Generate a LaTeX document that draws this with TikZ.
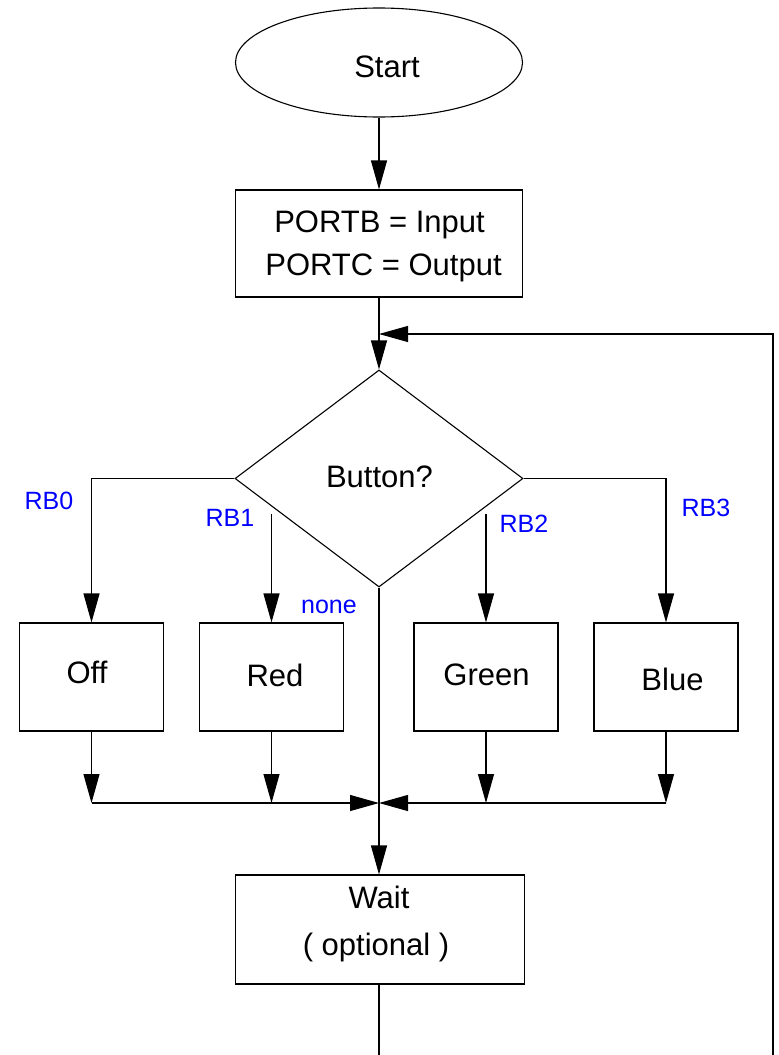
\documentclass[tikz,border=0pt]{standalone}
\usepackage{fontspec}
\setmainfont{Liberation Sans}
\usetikzlibrary{shapes.geometric,arrows.meta}
\begin{document}
\begin{tikzpicture}[x=1pt,y=-1pt,
  every node/.style={inner sep=0pt},
  txt/.style={anchor=base, font=\fontsize{31}{37}\selectfont},
  lbl/.style={anchor=base, text=blue, font=\fontsize{25}{30}\selectfont},
  box/.style={draw, line width=1.1pt, rectangle},
  arr/.style={line width=1.1pt, -{Triangle[length=29pt,width=16pt]}},
  ln/.style={line width=1.1pt}]
\useasboundingbox (0,0) rectangle (779,1055);
% shapes
\node[draw, ellipse, line width=1.1pt, minimum width=287pt, minimum height=109pt] (start) at (379,62.5) {};
\node[box, minimum width=287pt, minimum height=107pt] (init) at (379,243.5) {};
\node[draw, diamond, line width=1.1pt, minimum width=288pt, minimum height=217pt] (dec) at (379,478.5) {};
\node[box, minimum width=144pt, minimum height=108pt] (off) at (91.5,677) {};
\node[box, minimum width=144pt, minimum height=108pt] (red) at (271.5,677) {};
\node[box, minimum width=144pt, minimum height=108pt] (green) at (486,677) {};
\node[box, minimum width=144pt, minimum height=108pt] (blue) at (666,677) {};
\node[box, minimum width=289pt, minimum height=109pt] (wait) at (380,929.5) {};
% texts
\node[txt] (tstart) at (387,77) {Start};
\node[txt] (tinit1) at (379.5,232) {PORTB = Input};
\node[txt] (tinit2) at (383.5,275) {PORTC = Output};
\node[txt] (tdec) at (379.5,487) {Button?};
\node[txt] (toff) at (87,683) {Off};
\node[txt] (tred) at (275,686) {Red};
\node[txt] (tgreen) at (486.5,685) {Green};
\node[txt] (tblue) at (672.5,690) {Blue};
\node[txt] (twait1) at (379,908) {Wait};
\node[txt] (twait2) at (376,955) {( optional )};
\node[lbl] (l0) at (49,509) {RB0};
\node[lbl] (l1) at (230,526) {RB1};
\node[lbl] (l2) at (524,532) {RB2};
\node[lbl] (l3) at (706,516) {RB3};
\node[lbl] (lnone) at (329,613) {none};
% coordinates
\coordinate (fb) at (379,334);
\coordinate (rb) at (773,1056);
\coordinate (wb) at (379,1056);
\coordinate (r1) at (271.5,514);
\coordinate (r2) at (486,514);
\coordinate (m) at (379,803);
% connectors
\draw[arr] (start.south) -- (init.north);
\draw[arr] (init.south) -- (dec.north);
\draw[arr] (rb) |- (fb);
\draw[ln] (wait.south -| wb) -- (wb);
\draw[arr] (dec.west) -| (off.north);
\draw[arr] (dec.east) -| (blue.north);
\draw[arr] (r1) -- (red.north);
\draw[arr] (r2) -- (green.north);
\draw[arr] (off.south) -- (off.south |- m);
\draw[arr] (red.south) -- (red.south |- m);
\draw[arr] (green.south) -- (green.south |- m);
\draw[arr] (blue.south) -- (blue.south |- m);
\draw[ln] (off.south |- m) -- (red.south |- m);
\draw[ln] (blue.south |- m) -- (green.south |- m);
\draw[arr] (red.south |- m) -- (m);
\draw[arr] (green.south |- m) -- (m);
\draw[arr] (dec.south) -- (wait.north -| m);
\end{tikzpicture}
\end{document}
